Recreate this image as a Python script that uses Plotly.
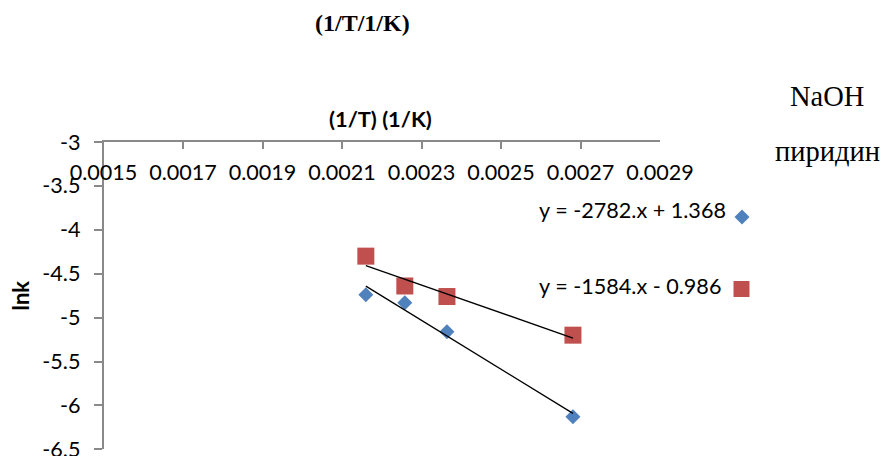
import plotly.graph_objects as go

# ---- data ----
inv_T = [0.002160, 0.002258, 0.002364, 0.002681]          # 1/T (1/K)
lnk_naoh = [-4.74, -4.83, -5.16, -6.13]                    # NaOH
lnk_pyr = [-4.30, -4.64, -4.76, -5.20]                     # пиридин
fit_slopes = [-2782.0, -1584.0]
fit_intercepts = [1.368, -0.986]
fit_labels = ["y = -2782.x + 1.368", "y = -1584.x - 0.986"]
series_names = ["NaOH", "пиридин"]
x_ticks = [0.0015, 0.0017, 0.0019, 0.0021, 0.0023, 0.0025, 0.0027, 0.0029]
x_ticktext = ["0.0015", "0.0017", "0.0019", "0.0021", "0.0023", "0.0025", "0.0027", "0.0029"]
y_ticks = [-3, -3.5, -4, -4.5, -5, -5.5, -6, -6.5]
y_ticktext = ["-3", "-3.5", "-4", "-4.5", "-5", "-5.5", "-6", "-6.5"]

W, H = 883, 456
BLUE = "#4F81BD"
RED = "#C0504D"
AX = "#898989"
FONT = "Lato"
FS = 21.6

fig = go.Figure()

fig.add_trace(go.Scatter(x=inv_T, y=lnk_naoh, mode="markers", name=series_names[0],
                         marker=dict(symbol="diamond", size=11.5, color=BLUE),
                         xaxis="x", yaxis="y", showlegend=False, cliponaxis=False))
fig.add_trace(go.Scatter(x=inv_T, y=lnk_pyr, mode="markers", name=series_names[1],
                         marker=dict(symbol="square", size=17, color=RED),
                         xaxis="x", yaxis="y", showlegend=False, cliponaxis=False))

xmin, xmax = min(inv_T), max(inv_T)
for a, b in zip(fit_slopes, fit_intercepts):
    fig.add_trace(go.Scatter(x=[xmin, xmax], y=[a * xmin + b, a * xmax + b], mode="lines",
                             line=dict(color="black", width=1.3),
                             xaxis="x", yaxis="y", showlegend=False, hoverinfo="skip"))

# legend keys placed on a full-figure pixel overlay
fig.add_trace(go.Scatter(x=[742], y=[217], mode="markers",
                         marker=dict(symbol="diamond", size=11.5, color=BLUE),
                         xaxis="x2", yaxis="y2", showlegend=False, hoverinfo="skip"))
fig.add_trace(go.Scatter(x=[741.5], y=[289], mode="markers",
                         marker=dict(symbol="square", size=16, color=RED),
                         xaxis="x2", yaxis="y2", showlegend=False, hoverinfo="skip"))

def px(x):
    return x / W

def py(y):
    return 1 - y / H

annotations = [
    dict(text="<b>(1/T/1/K)</b>", x=px(362.5), y=py(23), font=dict(family="Liberation Serif", size=24, color="black")),
    dict(text=series_names[0], x=px(827), y=py(96), font=dict(family="Liberation Serif", size=28.5, color="black")),
    dict(text=series_names[1], x=px(827.5), y=py(152), font=dict(family="Liberation Serif", size=28.5, color="black")),
    dict(text="<b>(1/T) (1/K)</b>", x=px(380), y=py(119), font=dict(family=FONT, size=21.8, color="black")),
    dict(text="<b>lnk</b>", x=px(19.5), y=py(296), textangle=-90, font=dict(family=FONT, size=22, color="black")),
    dict(text=fit_labels[0], x=px(728), y=py(210), xanchor="right", font=dict(family=FONT, size=FS, color="black")),
    dict(text=fit_labels[1], x=px(723), y=py(286), xanchor="right", font=dict(family=FONT, size=FS, color="black")),
]
for an in annotations:
    an.setdefault("xanchor", "center")
    an.update(xref="paper", yref="paper", yanchor="middle", showarrow=False)

fig.update_layout(
    width=W, height=H,
    margin=dict(l=0, r=0, t=0, b=0, autoexpand=False),
    paper_bgcolor="white", plot_bgcolor="rgba(0,0,0,0)",
    showlegend=False,
    font=dict(family=FONT, size=FS, color="black"),
    xaxis=dict(domain=[103.5 / W, 660 / W], anchor="y", side="top", range=[0.0015, 0.0029],
               tickvals=x_ticks, ticktext=x_ticktext, ticks="inside", ticklen=7, tickwidth=1.5,
               tickcolor=AX, ticklabelposition="inside", ticklabelstandoff=17,
               ticklabeloverflow="allow",
               showline=True, linecolor=AX, linewidth=1.5, showgrid=False, zeroline=False,
               automargin=False, tickfont=dict(family=FONT, size=FS, color="black")),
    yaxis=dict(domain=[(H - 449.3) / H, (H - 142) / H], anchor="x", range=[-6.5, -3],
               tickvals=y_ticks, ticktext=y_ticktext, ticks="outside", ticklen=8, tickwidth=1.5,
               tickcolor=AX, ticklabelstandoff=9, ticklabeloverflow="allow",
               showline=True, linecolor=AX, linewidth=1.5, showgrid=False, zeroline=False,
               automargin=False, tickfont=dict(family=FONT, size=FS, color="black")),
    xaxis2=dict(domain=[0, 1], anchor="y2", range=[0, W], visible=False, fixedrange=True),
    yaxis2=dict(domain=[0, 1], anchor="x2", range=[H, 0], visible=False, fixedrange=True),
    annotations=annotations,
)

fig.write_html("out.html", config={"displayModeBar": False},
               post_script="document.body.style.margin='0';document.body.style.overflow='hidden';")
